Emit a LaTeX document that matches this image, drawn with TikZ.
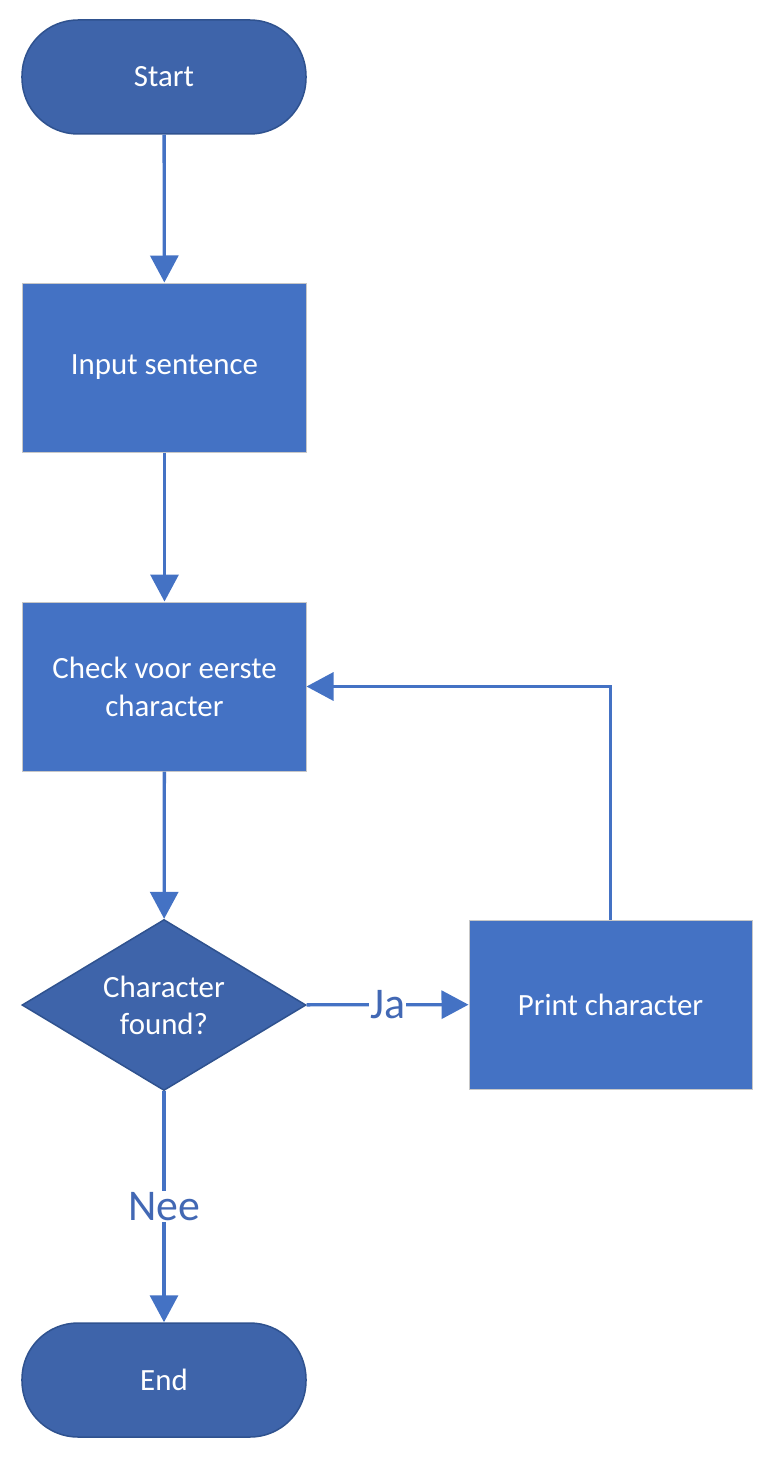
\documentclass[tikz,border=0pt]{standalone}
\usepackage{fontspec}
\setmainfont{Carlito}
\usetikzlibrary{arrows.meta,shapes.geometric}
\definecolor{boxblue}{HTML}{4472C4}
\definecolor{darkblue}{HTML}{3E64AA}
\definecolor{edgeblue}{HTML}{2F528F}
\definecolor{lineblue}{HTML}{4472C4}
\definecolor{lblblue}{HTML}{4268B4}
\begin{document}
\begin{tikzpicture}[x=1bp,y=-1bp,
  proc/.style={rectangle, fill=boxblue, draw=black!22, line width=1bp,
    minimum width=283bp, minimum height=169bp, inner sep=0pt, text=white,
    font=\fontsize{31}{38}\selectfont, align=center},
  term/.style={rectangle, rounded corners=56bp, fill=darkblue, draw=edgeblue,
    line width=1.5bp, minimum width=284bp, minimum height=114bp, inner sep=0pt,
    text=white, font=\fontsize{31}{38}\selectfont, align=center},
  dec/.style={diamond, shape aspect=1.66, fill=darkblue, draw=edgeblue, line width=1.5bp,
    minimum width=284bp, minimum height=171bp, inner sep=0pt, text=white,
    font=\fontsize{31}{37}\selectfont, align=center},
  conn/.style={draw=lineblue, line width=3.3bp, -{Triangle[length=27bp,width=28bp]}},
  lbl/.style={fill=white, text=lblblue, font=\fontsize{44}{44}\selectfont, inner sep=1.5bp}
]
\useasboundingbox (0,0) rectangle (773,1459);
\node[term] (start) at (164,77) {Start};
\node[proc] (inp) at (164.5,367.5) {Input sentence};
\node[proc] (chk) at (164.5,686.5) {Check voor eerste\\character};
\node[dec] (dec) at (164,1005) {Character\\found?};
\node[proc] (prt) at (610.5,1004.5) {Print character};
\node[term] (end) at (164,1380) {End};
\draw[conn] (start) -- (inp);
\draw[conn] (inp) -- (chk);
\draw[conn] (chk) -- (dec);
\draw[conn] (dec) -- node[lbl] {Ja} (prt);
\draw[conn] (dec) -- node[lbl] {Nee} (end);
\draw[conn] (prt.north) |- (chk.east);
\end{tikzpicture}
\end{document}
